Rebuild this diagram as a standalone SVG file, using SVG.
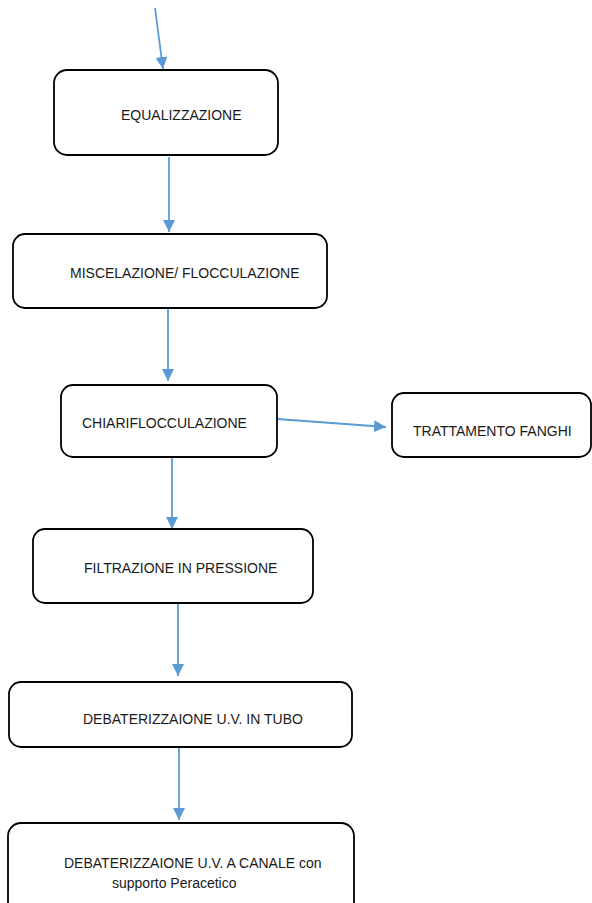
<svg xmlns="http://www.w3.org/2000/svg" width="592" height="903" viewBox="0 0 592 903">
<style>
.box{fill:#fff;stroke:#000;stroke-width:1.8}
.lbl{font-family:"Liberation Sans",Arial,sans-serif;font-size:14px;fill:#1a1a1a}
.conn{stroke:#5B9BD5;stroke-width:1.8;fill:none;marker-end:url(#ah)}
</style>
<defs>
<marker id="ah" markerUnits="userSpaceOnUse" markerWidth="12" markerHeight="12" refX="12" refY="6" orient="auto" viewBox="0 0 12 12">
<path d="M0,0 L12,6 L0,12 z" fill="#5B9BD5"/>
</marker>
</defs>
<rect width="592" height="903" fill="#fff"/>
<g id="connectors">
<line class="conn" x1="155" y1="8" x2="163" y2="69"/>
<line class="conn" x1="169" y1="157" x2="169" y2="232"/>
<line class="conn" x1="168" y1="306" x2="168" y2="381"/>
<line class="conn" x1="277" y1="419" x2="386" y2="427"/>
<line class="conn" x1="172" y1="456" x2="172" y2="529"/>
<line class="conn" x1="178" y1="601" x2="178" y2="676"/>
<line class="conn" x1="179" y1="744" x2="179" y2="820"/>
</g>
<g id="equalizzazione">
<rect class="box" x="54" y="70" width="224" height="85" rx="13"/>
<text class="lbl" x="121" y="120">EQUALIZZAZIONE</text>
</g>
<g id="miscelazione">
<rect class="box" x="13" y="234" width="314" height="74" rx="12"/>
<text class="lbl" x="70" y="278">MISCELAZIONE/ FLOCCULAZIONE</text>
</g>
<g id="chiariflocculazione">
<rect class="box" x="61" y="385" width="216" height="72" rx="12"/>
<text class="lbl" x="82" y="428">CHIARIFLOCCULAZIONE</text>
</g>
<g id="trattamento">
<rect class="box" x="392" y="393" width="199" height="64" rx="12"/>
<text class="lbl" x="413" y="436">TRATTAMENTO FANGHI</text>
</g>
<g id="filtrazione">
<rect class="box" x="33" y="529" width="280" height="74" rx="12"/>
<text class="lbl" x="84" y="573">FILTRAZIONE IN PRESSIONE</text>
</g>
<g id="uv-tubo">
<rect class="box" x="9" y="682" width="343" height="65" rx="12"/>
<text class="lbl" x="83" y="724">DEBATERIZZAIONE U.V. IN TUBO</text>
</g>
<g id="uv-canale">
<rect class="box" x="8" y="823" width="346" height="95" rx="13"/>
<text class="lbl" x="64" y="868">DEBATERIZZAIONE U.V. A CANALE con</text>
<text class="lbl" x="112" y="888">supporto Peracetico</text>
</g>
</svg>
